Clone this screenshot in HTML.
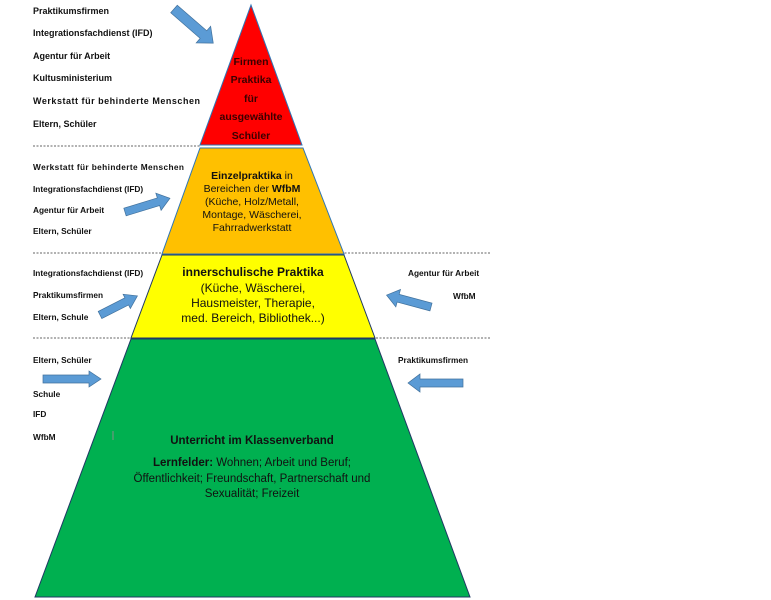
<!DOCTYPE html>
<html><head><meta charset="utf-8"><style>
html,body{margin:0;padding:0;background:#fff;}
svg{display:block;}
text{font-family:"Liberation Sans",sans-serif;fill:#111;}
.l{font-weight:bold;font-size:9px;}
.s{font-weight:bold;font-size:8.3px;}
</style></head><body>
<svg width="771" height="600" viewBox="0 0 771 600" xmlns="http://www.w3.org/2000/svg">
<!-- dashed lines -->
<g stroke="#333" stroke-width="0.8" stroke-dasharray="2,1.5">
<line x1="33" y1="146" x2="200" y2="146"/>
<line x1="33" y1="253" x2="490" y2="253"/>
<line x1="33" y1="338" x2="490" y2="338"/>
</g>
<!-- pyramid -->
<polygon points="251,5 302,145 200,145" fill="#ff0000" stroke="#2e75b6" stroke-width="1"/>
<polygon points="200,148 303,148 344,254 162,254" fill="#ffc000" stroke="#2e75b6" stroke-width="1"/>
<polygon points="162,255 344,255 375,338 131,338" fill="#ffff00" stroke="#1f3864" stroke-width="1"/>
<polygon points="131,339 375,339 470,597 35,597" fill="#00b050" stroke="#1f3864" stroke-width="1"/>
<!-- arrows -->
<g fill="#5b9bd5" stroke="#41719c" stroke-width="0.7">
<polygon transform="translate(174,9) rotate(41)" points="0,-5 39,-5 39,-11 52,0 39,11 39,5 0,5"/>
<polygon transform="translate(125,212) rotate(-17)" points="0,-4 35,-4 35,-9 47,0 35,9 35,4 0,4"/>
<polygon transform="translate(100,315) rotate(-27)" points="0,-4 30,-4 30,-8 42,0 30,8 30,4 0,4"/>
<polygon transform="translate(431,307) rotate(195)" points="0,-4 34,-4 34,-9 46,0 34,9 34,4 0,4"/>
<polygon transform="translate(43,379) rotate(0)" points="0,-4 46,-4 46,-8 58,0 46,8 46,4 0,4"/>
<polygon transform="translate(463,383) rotate(180)" points="0,-4 43,-4 43,-9 55,0 43,9 43,4 0,4"/>
</g>
<!-- left labels top -->
<text class="l" x="33" y="14">Praktikumsfirmen</text>
<text class="l" x="33" y="36">Integrationsfachdienst (IFD)</text>
<text class="l" x="33" y="59">Agentur für Arbeit</text>
<text class="l" x="33" y="81">Kultusministerium</text>
<text class="l" x="33" y="104" textLength="167">Werkstatt für behinderte Menschen</text>
<text class="l" x="33" y="127">Eltern, Schüler</text>
<text class="s" x="33" y="170" textLength="151">Werkstatt für behinderte Menschen</text>
<text class="s" x="33" y="192">Integrationsfachdienst (IFD)</text>
<text class="s" x="33" y="213">Agentur für Arbeit</text>
<text class="s" x="33" y="234">Eltern, Schüler</text>
<text class="s" x="33" y="276">Integrationsfachdienst (IFD)</text>
<text class="s" x="33" y="298">Praktikumsfirmen</text>
<text class="s" x="33" y="320">Eltern, Schule</text>
<text class="s" x="408" y="276">Agentur für Arbeit</text>
<text class="s" x="453" y="299">WfbM</text>
<text class="s" x="33" y="363">Eltern, Schüler</text>
<text class="s" x="33" y="397">Schule</text>
<text class="s" x="33" y="417">IFD</text>
<text class="s" x="33" y="440">WfbM</text>
<text class="s" x="398" y="363">Praktikumsfirmen</text>
<!-- red text -->
<g font-weight="bold" font-size="10.5" text-anchor="middle">
<text x="251" y="65" style="fill:#3a0000">Firmen</text>
<text x="251" y="83" style="fill:#3a0000">Praktika</text>
<text x="251" y="102" style="fill:#3a0000">für</text>
<text x="251" y="120" style="fill:#3a0000">ausgewählte</text>
<text x="251" y="139" style="fill:#3a0000">Schüler</text>
</g>
<!-- orange text -->
<g font-size="10.5" text-anchor="middle">
<text x="252" y="179"><tspan font-weight="bold">Einzelpraktika</tspan> in</text>
<text x="252" y="192">Bereichen der <tspan font-weight="bold">WfbM</tspan></text>
<text x="252" y="205">(Küche, Holz/Metall,</text>
<text x="252" y="218">Montage, Wäscherei,</text>
<text x="252" y="231">Fahrradwerkstatt</text>
</g>
<!-- yellow text -->
<g font-size="12" text-anchor="middle">
<text x="253" y="276" font-weight="bold">innerschulische Praktika</text>
<text x="253" y="292">(Küche, Wäscherei,</text>
<text x="253" y="307">Hausmeister, Therapie,</text>
<text x="253" y="322">med. Bereich, Bibliothek...)</text>
</g>
<!-- green text -->
<g font-size="11.5" text-anchor="middle">
<text x="252" y="444" font-weight="bold">Unterricht im Klassenverband</text>
<text x="252" y="466"><tspan font-weight="bold">Lernfelder:</tspan> Wohnen; Arbeit und Beruf;</text>
<text x="252" y="482">Öffentlichkeit; Freundschaft, Partnerschaft und</text>
<text x="252" y="497">Sexualität; Freizeit</text>
</g>
<line x1="113" y1="431" x2="113" y2="440" stroke="#c080a0" stroke-width="0.7"/>
</svg>
</body></html>
